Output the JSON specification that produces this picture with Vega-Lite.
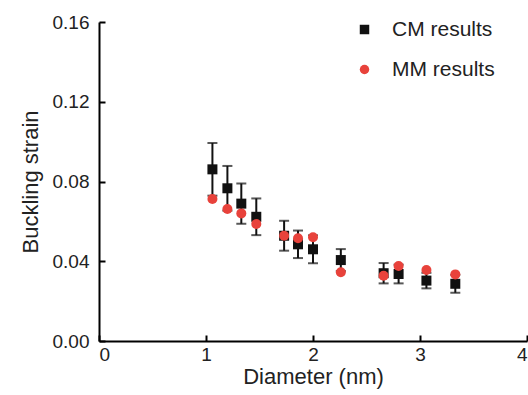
{
  "$schema": "https://vega.github.io/schema/vega-lite/v6.json",
  "width": 428,
  "height": 319,
  "autosize": {"type": "none"},
  "padding": {"left": 99, "top": 22, "right": 1, "bottom": 54},
  "background": "white",
  "config": {
    "view": {"stroke": null},
    "font": "Liberation Sans",
    "axis": {
      "grid": false,
      "zindex": 1,
      "domainColor": "black",
      "domainWidth": 2,
      "domainOpacity": 1,
      "tickColor": "black",
      "tickWidth": 2,
      "tickOpacity": 1,
      "labelFontSize": 19,
      "labelColor": "#222222",
      "titleFontSize": 22,
      "titleFontWeight": "normal",
      "titleColor": "#222222"
    }
  },
  "data": {
    "values": [
      {"d": 1.06, "strain": 0.0861, "lo": 0.0729, "hi": 0.0993, "series": "CM results"},
      {"d": 1.20, "strain": 0.0766, "lo": 0.0654, "hi": 0.0878, "series": "CM results"},
      {"d": 1.33, "strain": 0.0689, "lo": 0.0588, "hi": 0.0790, "series": "CM results"},
      {"d": 1.47, "strain": 0.0623, "lo": 0.0531, "hi": 0.0715, "series": "CM results"},
      {"d": 1.73, "strain": 0.0528, "lo": 0.0453, "hi": 0.0603, "series": "CM results"},
      {"d": 1.86, "strain": 0.0485, "lo": 0.0416, "hi": 0.0554, "series": "CM results"},
      {"d": 2.00, "strain": 0.0460, "lo": 0.0390, "hi": 0.0530, "series": "CM results"},
      {"d": 2.26, "strain": 0.0406, "lo": 0.0351, "hi": 0.0461, "series": "CM results"},
      {"d": 2.66, "strain": 0.0340, "lo": 0.0289, "hi": 0.0391, "series": "CM results"},
      {"d": 2.80, "strain": 0.0336, "lo": 0.0289, "hi": 0.0383, "series": "CM results"},
      {"d": 3.06, "strain": 0.0303, "lo": 0.0264, "hi": 0.0342, "series": "CM results"},
      {"d": 3.33, "strain": 0.0287, "lo": 0.0242, "hi": 0.0332, "series": "CM results"},
      {"d": 1.06, "strain": 0.0712, "series": "MM results"},
      {"d": 1.20, "strain": 0.0662, "series": "MM results"},
      {"d": 1.33, "strain": 0.0640, "series": "MM results"},
      {"d": 1.47, "strain": 0.0587, "series": "MM results"},
      {"d": 1.73, "strain": 0.0528, "series": "MM results"},
      {"d": 1.86, "strain": 0.0515, "series": "MM results"},
      {"d": 2.00, "strain": 0.0520, "series": "MM results"},
      {"d": 2.26, "strain": 0.0345, "series": "MM results"},
      {"d": 2.66, "strain": 0.0327, "series": "MM results"},
      {"d": 2.80, "strain": 0.0376, "series": "MM results"},
      {"d": 3.06, "strain": 0.0356, "series": "MM results"},
      {"d": 3.33, "strain": 0.0334, "series": "MM results"}
    ]
  },
  "layer": [
    {
      "transform": [{"filter": "datum.series === 'CM results'"}],
      "mark": {"type": "rule", "color": "#111", "strokeWidth": 2},
      "encoding": {
        "x": {"field": "d", "type": "quantitative", "scale": {"domain": [0, 4], "nice": false},
          "axis": {"values": [0, 1, 2, 3, 4], "format": "d", "tickSize": -6, "labelPadding": 10, "title": "Diameter (nm)", "titlePadding": 2}},
        "y": {"field": "lo", "type": "quantitative", "scale": {"domain": [0, 0.16], "nice": false},
          "axis": {"values": [0, 0.04, 0.08, 0.12, 0.16], "format": ".2f", "tickSize": -6, "labelPadding": 16, "title": "Buckling strain", "titlePadding": 10}},
        "y2": {"field": "hi"}
      }
    },
    {
      "transform": [{"filter": "datum.series === 'CM results'"}],
      "mark": {"type": "tick", "orient": "horizontal", "size": 10, "thickness": 2, "color": "#111"},
      "encoding": {
        "x": {"field": "d", "type": "quantitative"},
        "y": {"field": "lo", "type": "quantitative"}
      }
    },
    {
      "transform": [{"filter": "datum.series === 'CM results'"}],
      "mark": {"type": "tick", "orient": "horizontal", "size": 10, "thickness": 2, "color": "#111"},
      "encoding": {
        "x": {"field": "d", "type": "quantitative"},
        "y": {"field": "hi", "type": "quantitative"}
      }
    },
    {
      "mark": {"type": "point", "filled": true, "opacity": 1, "size": 100},
      "encoding": {
        "x": {"field": "d", "type": "quantitative"},
        "y": {"field": "strain", "type": "quantitative"},
        "shape": {"field": "series", "type": "nominal", "scale": {"domain": ["CM results", "MM results"], "range": ["square", "circle"]},
          "legend": {"orient": "none", "legendX": 255, "legendY": -3, "title": null, "labelFontSize": 21, "labelColor": "#222", "symbolSize": 90, "rowPadding": 18, "labelOffset": 17, "padding": 0, "symbolStrokeWidth": 0}},
        "color": {"field": "series", "type": "nominal", "scale": {"domain": ["CM results", "MM results"], "range": ["#111111", "#e8423b"]},
          "legend": {"orient": "none", "legendX": 255, "legendY": -3, "title": null, "labelFontSize": 21, "labelColor": "#222", "symbolSize": 90, "rowPadding": 18, "labelOffset": 17, "padding": 0, "symbolStrokeWidth": 0}}
      }
    }
  ]
}
